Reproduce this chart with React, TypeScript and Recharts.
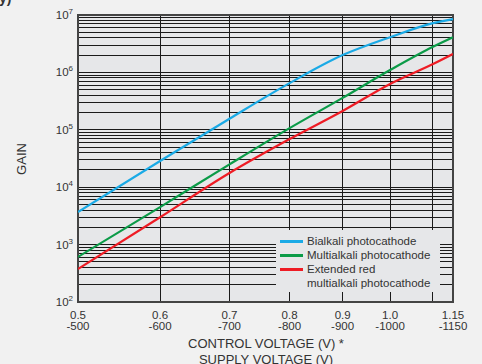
import { CartesianGrid, Line, LineChart, ReferenceArea, XAxis, YAxis } from "recharts";

// control voltage (V) at each reading
const controlVoltage = [0.5, 0.6, 0.7, 0.8, 0.9, 1.0, 1.1, 1.15];
const bialkali = [3700, 28600, 156000, 650000, 2000000, 4100000, 7200000, 8500000];
const multialkali = [610, 4500, 25000, 107000, 360000, 1100000, 2800000, 4100000];
const extendedRed = [375, 3000, 17700, 69000, 213000, 630000, 1400000, 2100000];

const xTicks = [0.5, 0.6, 0.7, 0.8, 0.9, 1.0, 1.1, 1.15];
const controlLabels = ["0.5", "0.6", "0.7", "0.8", "0.9", "1.0", "", "1.15"];
const supplyLabels = ["-500", "-600", "-700", "-800", "-900", "-1000", "", "-1150"];

const decades = [2, 3, 4, 5, 6];
const gridSteps = [1, 2, 3, 4, 5, 6, 7, 8, 9];
const yTicks = [...decades.flatMap((d) => gridSteps.map((m) => m * 10 ** d)), 1e7];

const series = [
  { key: "bialkali", name: "Bialkali photocathode", color: "#1aaae6" },
  { key: "multialkali", name: "Multialkali photocathode", color: "#0b9b48" },
  { key: "extendedRed", name: "Extended red\nmultialkali photocathode", color: "#ee1c25" },
];

const data = controlVoltage.map((v, i) => ({
  v,
  bialkali: bialkali[i],
  multialkali: multialkali[i],
  extendedRed: extendedRed[i],
}));

const font = "'Liberation Sans', Arial, Helvetica, sans-serif";
const textColor = "#333";

const XTick = ({ x, y, payload }: any) => {
  const i = xTicks.indexOf(payload.value);
  if (i < 0 || !controlLabels[i]) return null;
  return (
    <text x={x} y={y} textAnchor="middle" fontSize={11.5} fill={textColor} fontFamily={font}>
      <tspan x={x} dy={15}>{controlLabels[i]}</tspan>
      <tspan x={x} dy={10.5}>{supplyLabels[i]}</tspan>
    </text>
  );
};

const YTick = ({ x, y, payload }: any) => {
  const exp = Math.round(Math.log10(payload.value));
  if (10 ** exp !== payload.value) return null;
  return (
    <text x={x - 3} y={y + 4} textAnchor="end" fontSize={11.5} fill={textColor} fontFamily={font}>
      <tspan>10</tspan>
      <tspan dy={-5} fontSize={8}>{exp}</tspan>
    </text>
  );
};

export default function App() {
  return (
    <div style={{ position: "fixed", left: 0, top: 0, width: 482, height: 364, background: "#f1f1f1", overflow: "hidden" }}>
      <style>{".recharts-cartesian-grid line { shape-rendering: crispEdges; }"}</style>
      <div style={{ position: "absolute", left: -1, top: -10, fontFamily: font, fontWeight: "bold", fontSize: 14, color: textColor }}>y)</div>
      <LineChart width={482} height={364} data={data} margin={{ top: 15, right: 29, left: 0, bottom: 0 }}>
        <CartesianGrid stroke="#1a1a1a" strokeWidth={1} fill="#e6e7e9" fillOpacity={1} />
        <XAxis
          dataKey="v"
          type="number"
          scale="log"
          domain={[0.5, 1.15]}
          ticks={xTicks}
          allowDataOverflow
          height={62}
          axisLine={false}
          tickLine={false}
          tickSize={0}
          tick={<XTick />}
          interval={0}
        />
        <YAxis
          type="number"
          scale="log"
          domain={[100, 1e7]}
          ticks={yTicks}
          allowDataOverflow
          width={78}
          axisLine={false}
          tickLine={false}
          tickSize={0}
          tick={<YTick />}
          interval={0}
        />
        <ReferenceArea x1={0.5} x2={1.15} y1={100} y2={1e7} fill="none" stroke="#444" strokeWidth={2} />
        {series.map((s) => (
          <Line key={s.key} dataKey={s.key} name={s.name} type="monotone" stroke={s.color} strokeWidth={2.2} dot={false} isAnimationActive={false} />
        ))}
      </LineChart>
      <div style={{ position: "absolute", left: 276, top: 230, width: 164, height: 62, background: "#e6e7e9", padding: "4px 0 0 4px", boxSizing: "border-box", fontFamily: font, fontSize: 11.5, color: textColor, lineHeight: "14px" }}>
        {series.map((s) => (
          <div key={s.key} style={{ display: "flex", alignItems: "flex-start" }}>
            <span style={{ display: "inline-block", width: 23, height: 3, background: s.color, marginTop: 6, marginRight: 4, flexShrink: 0 }} />
            <span style={{ width: 132, whiteSpace: "pre-line" }}>{s.name}</span>
          </div>
        ))}
      </div>
      <div style={{ position: "absolute", left: 21, top: 159, transform: "translate(-50%, -50%) rotate(-90deg)", fontFamily: font, fontSize: 13, color: textColor, whiteSpace: "nowrap" }}>GAIN</div>
      <div style={{ position: "absolute", left: 0, width: 532, top: 336, textAlign: "center", fontFamily: font, fontSize: 13, lineHeight: "16px", color: textColor }}>
        CONTROL VOLTAGE (V) *<br />SUPPLY VOLTAGE (V)
      </div>
    </div>
  );
}
